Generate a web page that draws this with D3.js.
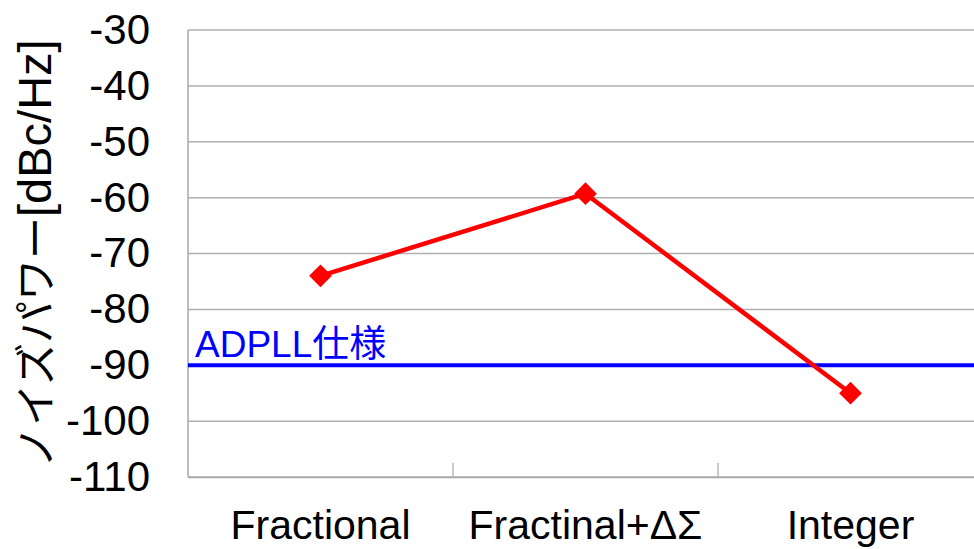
<!DOCTYPE html>
<html>
<head>
<meta charset="utf-8">
<script src="https://cdn.jsdelivr.net/npm/d3@7"></script>
<style>
  html, body { margin: 0; padding: 0; background: #fff; }
  svg { display: block; }
  text { font-family: "Liberation Sans", Arial, "Noto Sans CJK JP", sans-serif; }
</style>
</head>
<body>
<svg id="chart" width="974" height="549"></svg>
<script>
// Noise power for each PLL mode
const categories = ["Fractional", "Fractinal+ΔΣ", "Integer"];
const noisePower = [-74, -59.3, -95];
const specLevel = -90;
const specLabel = "ADPLL仕様";
const yTicks = [-30, -40, -50, -60, -70, -80, -90, -100, -110];
const yTitleKana = "ノイズパワー";
const yTitleUnit = "[dBc/Hz]";

const svg = d3.select("#chart");
const margin = { left: 188, top: 30, right: -9, bottom: 72 };
const W = 974, H = 549;
const plotW = W - margin.left - margin.right;
const plotH = H - margin.top - margin.bottom;

const x = d3.scaleBand().domain(categories).range([0, plotW]).padding(0);
const y = d3.scaleLinear().domain([-110, -30]).range([plotH, 0]);

const g = svg.append("g").attr("transform", `translate(${margin.left},${margin.top})`);

// horizontal gridlines
g.append("g")
  .selectAll("line")
  .data(yTicks)
  .join("line")
  .attr("x1", 0).attr("x2", plotW)
  .attr("y1", d => y(d)).attr("y2", d => y(d))
  .attr("stroke", "#b0b0b0").attr("stroke-width", 1.5);

// left axis line
g.append("line")
  .attr("x1", 0).attr("x2", 0).attr("y1", 0).attr("y2", plotH)
  .attr("stroke", "#a8a8a8").attr("stroke-width", 1.5);

// y tick labels (plain hyphen for negatives)
const yAxis = d3.axisLeft(y).tickValues(yTicks).tickSize(0).tickPadding(38)
  .tickFormat(d => String(d));
const ya = g.append("g").call(yAxis);
ya.select(".domain").remove();
ya.selectAll("text")
  .attr("font-size", 42)
  .attr("fill", "#000")
  .attr("font-family", "'Liberation Sans', Arial, sans-serif");

// category axis and labels
const xAxis = d3.axisBottom(x).tickSize(0).tickPadding(0);
const xa = g.append("g").attr("transform", `translate(0,${plotH})`).call(xAxis);
xa.select(".domain").attr("stroke", "#a8a8a8").attr("stroke-width", 1.5);
xa.selectAll("text")
  .attr("font-size", 41)
  .attr("fill", "#000")
  .attr("dy", 0)
  .attr("y", 62)
  .attr("font-family", "'Liberation Sans', Arial, sans-serif");

// inward ticks between categories
g.append("g")
  .selectAll("line")
  .data(categories.slice(1))
  .join("line")
  .attr("x1", d => x(d)).attr("x2", d => x(d))
  .attr("y1", plotH).attr("y2", plotH - 14)
  .attr("stroke", "#a8a8a8").attr("stroke-width", 1.2);

// specification line
g.append("line")
  .attr("x1", 0).attr("x2", plotW)
  .attr("y1", y(specLevel)).attr("y2", y(specLevel))
  .attr("stroke", "#0000ff").attr("stroke-width", 4);

g.append("text")
  .attr("x", 7)
  .attr("y", y(specLevel) - 8)
  .attr("font-size", 37)
  .attr("fill", "#0000ff")
  .text(specLabel);

// noise series
const pts = categories.map((c, i) => [x(c) + x.bandwidth() / 2, y(noisePower[i])]);
g.append("path")
  .attr("d", d3.line()(pts))
  .attr("fill", "none")
  .attr("stroke", "#ff0000")
  .attr("stroke-width", 4.5)
  .attr("stroke-linejoin", "round");

g.append("g")
  .selectAll("path")
  .data(pts)
  .join("path")
  .attr("transform", d => `translate(${d[0]},${d[1]})`)
  .attr("d", d3.symbol(d3.symbolDiamond2, 330)())
  .attr("fill", "#ff0000");

// y axis title
const title = svg.append("text")
  .attr("transform", `translate(51,${margin.top + plotH / 2}) rotate(-90)`)
  .attr("text-anchor", "middle")
  .attr("fill", "#000");
title.append("tspan")
  .attr("font-size", 42)
  .attr("font-family", "'Noto Sans CJK JP', sans-serif")
  .text(yTitleKana);
title.append("tspan")
  .attr("font-size", 47)
  .attr("font-family", "'Liberation Sans', Arial, sans-serif")
  .text(yTitleUnit);
</script>
</body>
</html>
